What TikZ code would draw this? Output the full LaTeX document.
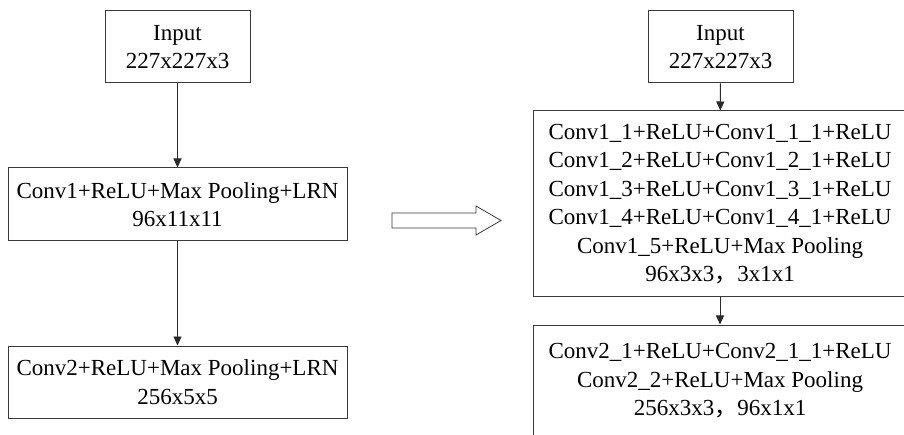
\documentclass[tikz,border=0pt]{standalone}
\usepackage{fontspec}
\setmainfont{Liberation Serif}
\newfontfamily\cjk{Noto Sans CJK SC}
\usetikzlibrary{arrows.meta}
\definecolor{box-line}{HTML}{3A3A3A}
\definecolor{arrow-line}{HTML}{2A2A2A}

\begin{document}
\begin{tikzpicture}[x=1pt, y=-1pt,
    every node/.style={font=\fontsize{23}{28.5}\selectfont, align=center},
    layer/.style={draw=box-line, line width=1pt, inner sep=0pt},
    flow/.style={-{Triangle[length=9pt, width=8pt]}, color=arrow-line, line width=0.9pt}]
    \useasboundingbox (0,0) rectangle (904,435);
    % original network
    \node[layer, minimum width=145pt, minimum height=72pt] (inA) at (177.5, 47) {Input\\227x227x3};
    \node[layer, minimum width=339pt, minimum height=73pt] (c1A) at (177.5, 204.5)
      {Conv1+ReLU+Max Pooling+LRN\\96x11x11};
    \node[layer, minimum width=339pt, minimum height=72pt] (c2A) at (177.5, 382)
      {Conv2+ReLU+Max Pooling+LRN\\256x5x5};
    \draw[flow] (inA) -- (c1A);
    \draw[flow] (c1A) -- (c2A);
    % hollow arrow
    \draw[draw=box-line, line width=0.8pt, line join=miter]
      (392,213) -- (476,213) -- (476,206) -- (501,220.5) -- (476,235) -- (476,228) -- (392,228) -- cycle;
    % modified network
    \node[layer, minimum width=145pt, minimum height=72pt] (inB) at (720.5, 47) {Input\\227x227x3};
    \node[layer, minimum width=374pt, minimum height=186pt] (c1B) at (720, 204)
      {Conv1\_1+ReLU+Conv1\_1\_1+ReLU\\Conv1\_2+ReLU+Conv1\_2\_1+ReLU\\
       Conv1\_3+ReLU+Conv1\_3\_1+ReLU\\Conv1\_4+ReLU+Conv1\_4\_1+ReLU\\
       Conv1\_5+ReLU+Max Pooling\\96x3x3{\cjk ，}3x1x1};
    \node[layer, minimum width=374pt, minimum height=112pt] (c2B) at (720, 381)
      {Conv2\_1+ReLU+Conv2\_1\_1+ReLU\\Conv2\_2+ReLU+Max Pooling\\256x3x3{\cjk ，}96x1x1};
    \draw[flow] (inB) -- (c1B);
    \draw[flow] (c1B) -- (c2B);
\end{tikzpicture}
\end{document}
